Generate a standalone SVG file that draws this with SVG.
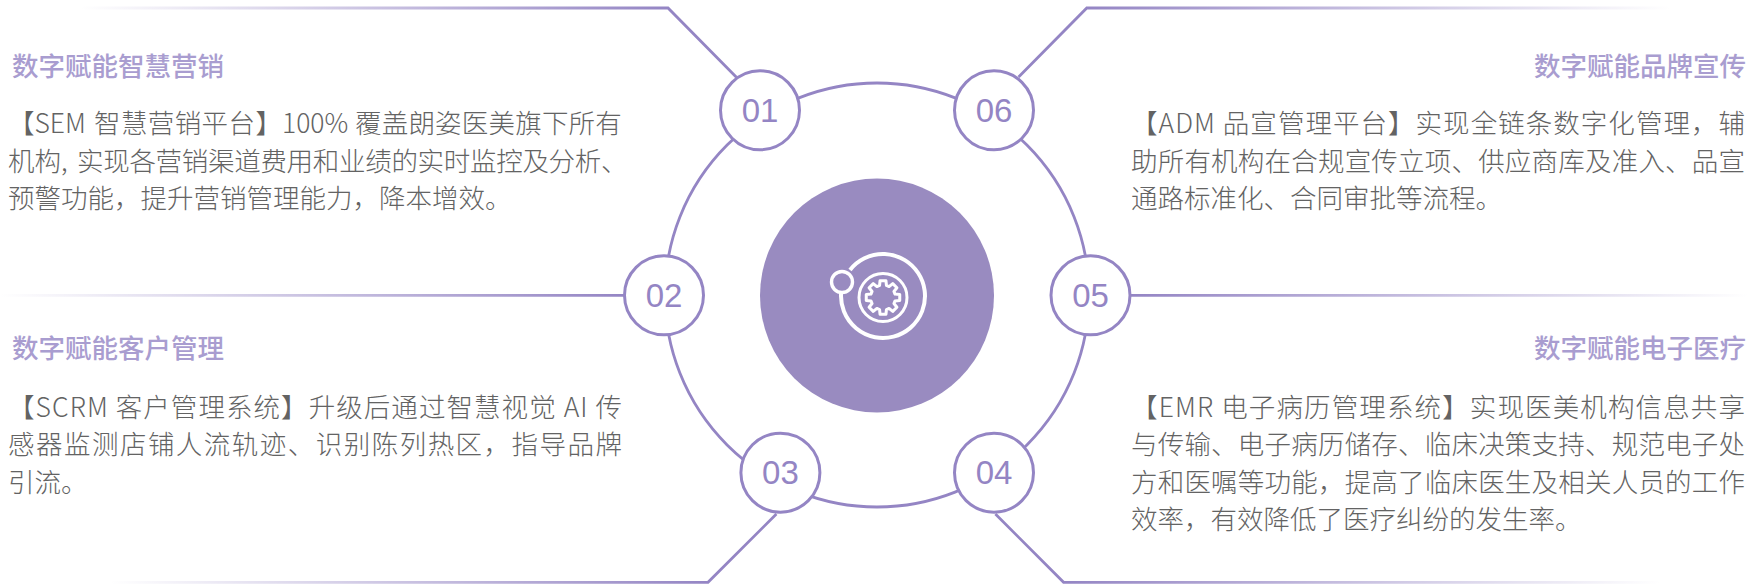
<svg xmlns="http://www.w3.org/2000/svg" width="1748" height="584" viewBox="0 0 1748 584">
<style>
text{font-family:"Noto Sans CJK SC","Noto Sans",sans-serif}
.t{font-size:26.5px;font-weight:500;fill:#a99dd0}
.b{font-size:26.5px;font-weight:300;fill:#636363}
.n{font-family:"Liberation Sans",sans-serif;font-size:33px;fill:#9485c4;text-anchor:middle}
.c{fill:#fff;stroke:#9485c4;stroke-width:3}
.l{fill:none;stroke-width:2.8}
.i{fill:none;stroke:#fff;stroke-linejoin:round}
</style>
<defs>
<linearGradient id="g1" gradientUnits="userSpaceOnUse" x1="80" y1="0" x2="668" y2="0"><stop offset="0" stop-color="#9485c4" stop-opacity="0"/><stop offset="1" stop-color="#9485c4"/></linearGradient>
<linearGradient id="g2" gradientUnits="userSpaceOnUse" x1="0" y1="0" x2="624" y2="0"><stop offset="0" stop-color="#9485c4" stop-opacity="0"/><stop offset="1" stop-color="#9485c4"/></linearGradient>
<linearGradient id="g3" gradientUnits="userSpaceOnUse" x1="110" y1="0" x2="708" y2="0"><stop offset="0" stop-color="#9485c4" stop-opacity="0"/><stop offset="1" stop-color="#9485c4"/></linearGradient>
<linearGradient id="g4" gradientUnits="userSpaceOnUse" x1="1064" y1="0" x2="1660" y2="0"><stop offset="0" stop-color="#9485c4"/><stop offset="1" stop-color="#9485c4" stop-opacity="0"/></linearGradient>
<linearGradient id="g5" gradientUnits="userSpaceOnUse" x1="1130" y1="0" x2="1748" y2="0"><stop offset="0" stop-color="#9485c4"/><stop offset="1" stop-color="#9485c4" stop-opacity="0"/></linearGradient>
<linearGradient id="g6" gradientUnits="userSpaceOnUse" x1="1087" y1="0" x2="1670" y2="0"><stop offset="0" stop-color="#9485c4"/><stop offset="1" stop-color="#9485c4" stop-opacity="0"/></linearGradient>
</defs>
<g id="connectors">
<circle cx="877" cy="295" r="212" fill="none" stroke="#9485c4" stroke-width="2.8"/>
<path class="l" stroke="url(#g1)" d="M80 8H668L736.4 77.3"/>
<path class="l" stroke="url(#g2)" d="M0 295.3H624"/>
<path class="l" stroke="url(#g3)" d="M110 582.3H708L776.4 514"/>
<path class="l" stroke="url(#g4)" d="M1660 582.3H1063.6L995.4 514"/>
<path class="l" stroke="url(#g5)" d="M1748 295.3H1131"/>
<path class="l" stroke="url(#g6)" d="M1670 8H1086.8L1018.6 77"/>
</g>
<g id="center">
<circle cx="877" cy="295.5" r="117" fill="#998bc0"/>
<path class="i" stroke-width="4" d="M850 270A42 42 0 1 1 841.1 293"/>
<circle class="i" stroke-width="3.4" cx="842" cy="282" r="10.5"/>
<circle class="i" stroke-width="3" cx="883" cy="297.5" r="24"/>
<path class="i" stroke-width="3" transform="translate(883 297.5)" d="M12.02 -3.45L16.74 -2.95L16.74 2.95L12.02 3.45L10.93 6.06L13.93 9.75L9.75 13.93L6.06 10.93L3.45 12.02L2.95 16.74L-2.95 16.74L-3.45 12.02L-6.06 10.93L-9.75 13.93L-13.93 9.75L-10.93 6.06L-12.02 3.45L-16.74 2.95L-16.74 -2.95L-12.02 -3.45L-10.93 -6.06L-13.93 -9.75L-9.75 -13.93L-6.06 -10.93L-3.45 -12.02L-2.95 -16.74L2.95 -16.74L3.45 -12.02L6.06 -10.93L9.75 -13.93L13.93 -9.75L10.93 -6.06Z"/>
</g>
<g id="node-01"><circle class="c" cx="760" cy="110.3" r="39.5"/><text class="n" x="760" y="122">01</text></g>
<g id="node-02"><circle class="c" cx="664" cy="295.3" r="39.5"/><text class="n" x="664" y="307">02</text></g>
<g id="node-03"><circle class="c" cx="780.4" cy="472.7" r="39.5"/><text class="n" x="780.4" y="484">03</text></g>
<g id="node-04"><circle class="c" cx="994" cy="472.7" r="39.5"/><text class="n" x="994" y="484">04</text></g>
<g id="node-05"><circle class="c" cx="1090.5" cy="295.3" r="39.5"/><text class="n" x="1090.5" y="307">05</text></g>
<g id="node-06"><circle class="c" cx="994" cy="110.3" r="39.5"/><text class="n" x="994" y="122">06</text></g>
<g id="text-01">
<text class="t" x="12" y="76">数字赋能智慧营销</text>
<text class="b" y="133"><tspan x="8">【SEM</tspan><tspan x="94" letter-spacing="0.4">智慧营销平台】</tspan><tspan x="282">100%</tspan><tspan x="355" letter-spacing="0.2">覆盖朗姿医美旗下所有</tspan></text>
<text class="b" y="171"><tspan x="8">机构,</tspan><tspan x="77" letter-spacing="-0.3">实现各营销渠道费用和业绩的实时监控及分析、</tspan></text>
<text class="b" x="8" y="208">预警功能，提升营销管理能力，降本增效。</text>
</g>
<g id="text-02">
<text class="t" x="12" y="358">数字赋能客户管理</text>
<text class="b" x="8" y="416.5" textLength="614">【SCRM 客户管理系统】升级后通过智慧视觉 AI 传</text>
<text class="b" x="8" y="454" textLength="614">感器监测店铺人流轨迹、识别陈列热区，指导品牌</text>
<text class="b" x="8" y="491.5">引流。</text>
</g>
<g id="text-06">
<text class="t" x="1534" y="76">数字赋能品牌宣传</text>
<text class="b" x="1131" y="133" textLength="614">【ADM 品宣管理平台】实现全链条数字化管理，辅</text>
<text class="b" x="1131" y="171" textLength="614">助所有机构在合规宣传立项、供应商库及准入、品宣</text>
<text class="b" x="1131" y="208">通路标准化、合同审批等流程。</text>
</g>
<g id="text-05">
<text class="t" x="1534" y="358">数字赋能电子医疗</text>
<text class="b" x="1131" y="416.5" textLength="614">【EMR 电子病历管理系统】实现医美机构信息共享</text>
<text class="b" x="1131" y="454" textLength="614">与传输、电子病历储存、临床决策支持、规范电子处</text>
<text class="b" x="1131" y="491.5" textLength="614">方和医嘱等功能，提高了临床医生及相关人员的工作</text>
<text class="b" x="1131" y="529">效率，有效降低了医疗纠纷的发生率。</text>
</g>
</svg>
